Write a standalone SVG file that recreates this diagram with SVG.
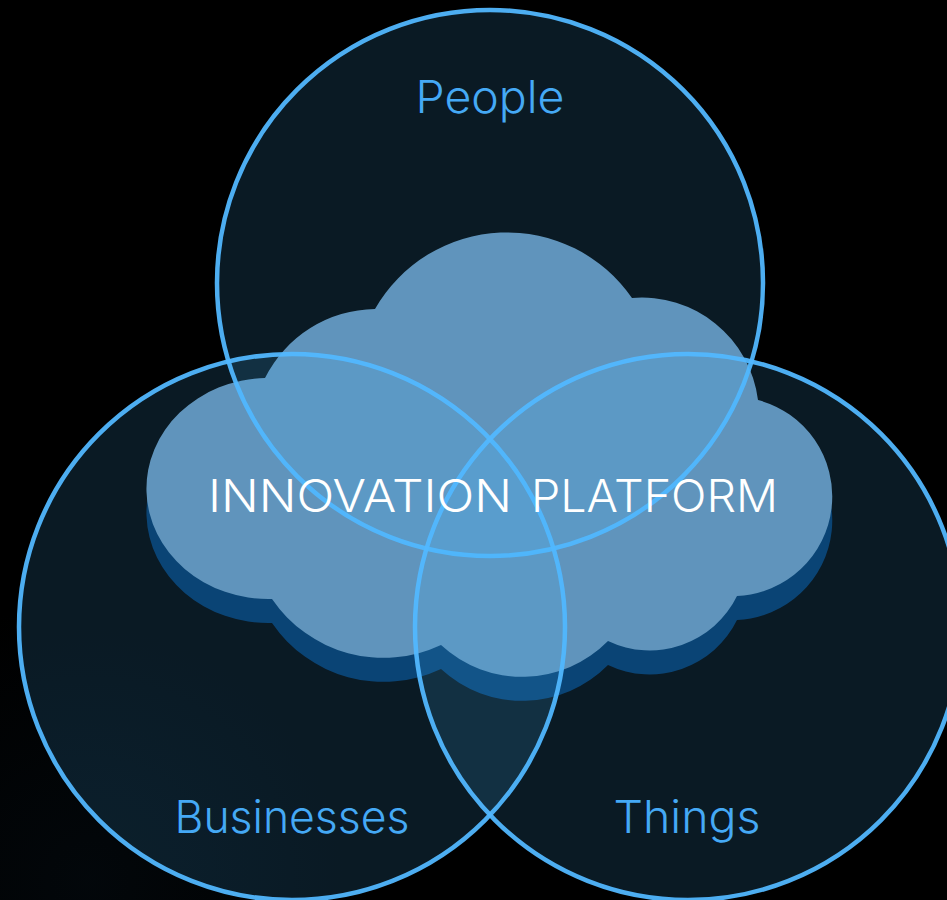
<svg xmlns="http://www.w3.org/2000/svg" width="947" height="900" viewBox="0 0 947 900">
<style>
.venn{fill:#47baff;fill-opacity:.14;stroke:#52b8ff;stroke-width:4.5;stroke-opacity:.94}
.label{font-family:"Inter","Open Sans","Liberation Sans",sans-serif;font-weight:300;font-size:45px;fill:#45a9f5;text-anchor:middle}
.center{font-family:"Inter","Open Sans","Liberation Sans",sans-serif;font-weight:300;font-size:45px;fill:#fff}
</style>
<defs>
<path id="cloudShape" d="M272 599A122 110.5 0 0 1 265 378A125 125 0 0 1 375 309A152 152 0 0 1 632 298A117 117 0 0 1 758 400A99.7 99.7 0 0 1 737 596A97 97 0 0 1 608 641A120 120 0 0 1 441 645A135 135 0 0 1 272 599Z"/>
<radialGradient id="glow" gradientUnits="userSpaceOnUse" cx="90" cy="880" r="280">
<stop offset="0" stop-color="#0b2030" stop-opacity=".22"/>
<stop offset="1" stop-color="#0b2030" stop-opacity="0"/>
</radialGradient>
</defs>
<rect width="947" height="900" fill="#000"/>
<rect width="947" height="900" fill="url(#glow)"/>
<g id="cloud">
<use href="#cloudShape" y="24" fill="#00325f"/>
<use href="#cloudShape" fill="#658fb1"/>
</g>
<g id="people"><circle class="venn" cx="490" cy="283" r="273"/><text class="label" x="490" y="113" textLength="149" lengthAdjust="spacingAndGlyphs">People</text></g>
<g id="businesses"><circle class="venn" cx="292" cy="627" r="273"/><text class="label" x="292" y="833" textLength="235" lengthAdjust="spacingAndGlyphs">Businesses</text></g>
<g id="things"><circle class="venn" cx="688" cy="627" r="273"/><text class="label" x="687" y="833" textLength="147" lengthAdjust="spacingAndGlyphs">Things</text></g>
<g id="platform"><text class="center" y="512"><tspan x="208" textLength="304" lengthAdjust="spacingAndGlyphs">INNOVATION</tspan> <tspan x="531" textLength="247" lengthAdjust="spacingAndGlyphs">PLATFORM</tspan></text></g>
<g id="connectors"/>
</svg>
